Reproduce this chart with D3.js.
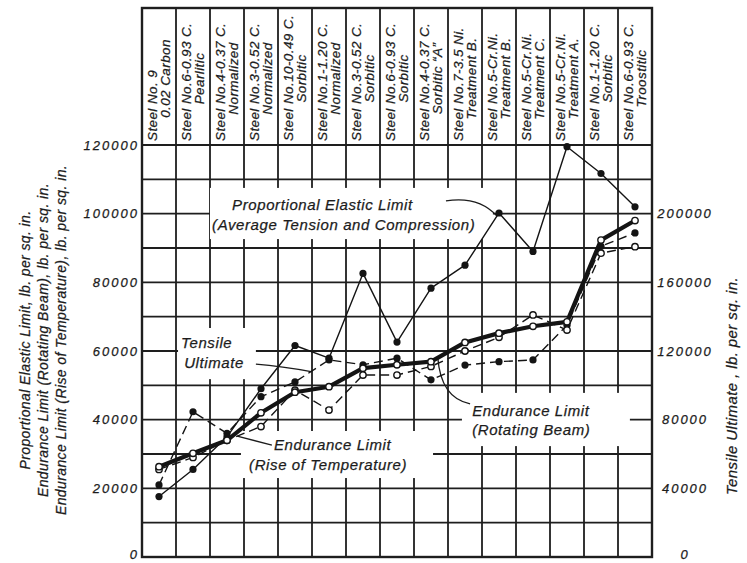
<!DOCTYPE html>
<html>
<head>
<meta charset="utf-8">
<title>Endurance limit compared with other properties of steels</title>
<style>
  body { margin: 0; background: #fff; }
  svg { display: block; background: #fff; }
  text { font-family: "Liberation Sans", Arial, sans-serif; font-style: italic; fill: #1c1c1c; stroke: #1c1c1c; stroke-width: 0.25px; }
</style>
</head>
<body>
<svg width="747" height="563"></svg>

<script src="https://d3js.org/d3.v7.min.js"></script>
<script>

// steels along the bottom (two lines of lettering in each header column)
var steels = ['Steel No. 9', 'Steel No.6-0.93 C.', 'Steel No.4-0.37 C.', 'Steel No.3-0.52 C.',
    'Steel No.10-0.49 C.', 'Steel No.1-1.20 C.', 'Steel No.3-0.52 C.', 'Steel No.6-0.93 C.',
    'Steel No.4-0.37 C.', 'Steel No.7-3.5 Ni.', 'Steel No.5-Cr.Ni.', 'Steel No.5-Cr.Ni.',
    'Steel No.5-Cr.Ni.', 'Steel No.1-1.20 C.', 'Steel No.6-0.93 C.'];
var treatments = ['0.02 Carbon', 'Pearlitic', 'Normalized', 'Normalized', 'Sorbitic', 'Normalized',
    'Sorbitic', 'Sorbitic', 'Sorbitic \u201CA\u201D', 'Treatment B.', 'Treatment B.', 'Treatment C.',
    'Treatment A.', 'Sorbitic', 'Troostitic'];

// lb. per sq. in. (left scale)
var propElastic   = [17600, 25500, 35000, 49000, 61600, 57900, 82600, 62600, 78300, 85000, 100200, 89000, 119500, 111700, 102000];
var enduranceBeam = [26300, 30200, 34000, 42000, 48000, 49600, 55000, 56000, 56900, 62500, 65200, 67200, 68500, 92300, 98000];
var enduranceRise = [25500, 29000, 34000, 38000, 48600, 42800, 53000, 53000, 55500, 60000, 64000, 70500, 66100, 88500, 90400];
// lb. per sq. in. (right scale)
var tensileUltimate = [42000, 84600, 72000, 93400, 102000, 114800, 112000, 115800, 103200, 111800, 113800, 114800, 135000, 181000, 188800];

var leftTicks = [0, 20000, 40000, 60000, 80000, 100000, 120000];
var rightTicks = [0, 40000, 80000, 120000, 160000, 200000];

var svg = d3.select('svg');
var plotLeft = 142, plotRight = 652, plotTop = 145, plotBottom = 557, headTop = 8;

var x = d3.scaleBand().domain(d3.range(steels.length)).range([plotLeft, plotRight]);
var xl = d3.scaleLinear().domain([0, steels.length]).range([plotLeft, plotRight]);
var y = d3.scaleLinear().domain([0, 120000]).range([plotBottom, plotTop]);
var y2 = d3.scaleLinear().domain([0, 240000]).range([plotBottom, plotTop]);
var bw = x.bandwidth();
var cx = i => x(i) + bw / 2;

// ---- grid ----
var grid = svg.append('g').attr('stroke', '#1e1e1e').attr('stroke-width', 1.8);
grid.selectAll('.h')
    .data(d3.range(0, 120001, 10000))
    .enter().append('line')
        .attr('x1', plotLeft).attr('x2', plotRight)
        .attr('y1', d => y(d)).attr('y2', d => y(d));
grid.selectAll('.v')
    .data(d3.range(steels.length + 1))
    .enter().append('line')
        .attr('x1', d => xl(d)).attr('x2', d => xl(d))
        .attr('y1', headTop).attr('y2', plotBottom);
grid.append('line')
    .attr('x1', plotLeft).attr('x2', plotRight)
    .attr('y1', headTop).attr('y2', headTop);
grid.append('rect')
    .attr('x', plotLeft).attr('y', headTop)
    .attr('width', plotRight - plotLeft).attr('height', plotBottom - headTop)
    .attr('fill', 'none').attr('stroke-width', 2.4);

// ---- header lettering ----
var head = svg.append('g').selectAll('g')
    .data(steels)
    .enter().append('g')
        .attr('transform', (d, i) => `translate(${x(i)},0)`);
head.append('text')
    .attr('transform', `translate(14.5,${plotTop - 4}) rotate(-90)`)
    .style('font-size', '13.5px').style('letter-spacing', '0.4px')
    .text(d => d);
head.append('text')
    .attr('transform', `translate(27.5,${(headTop + plotTop) / 2 + 2}) rotate(-90)`)
    .attr('text-anchor', 'middle')
    .style('font-size', '13.5px').style('letter-spacing', '0.4px')
    .text((d, i) => treatments[i]);

// ---- axes ----
var axL = svg.append('g')
    .attr('transform', `translate(${plotLeft},0)`)
    .call(d3.axisLeft(y).tickValues(leftTicks).tickSize(0).tickPadding(3).tickFormat(d3.format('d')));
var axR = svg.append('g')
    .attr('transform', `translate(${plotRight},0)`)
    .call(d3.axisRight(y2).tickValues(rightTicks).tickSize(0).tickFormat(d3.format('d')));
[axL, axR].forEach(a => {
    a.select('.domain').remove();
    a.selectAll('text')
        .attr('fill', '#1c1c1c')
        .style('font-family', '"Liberation Sans", Arial, sans-serif')
        .style('font-style', 'italic')
        .style('font-size', '13px')
        .style('letter-spacing', '2px');
    // keep the zero labels inside the picture
    a.selectAll('.tick').filter(d => d === 0).select('text').attr('dy', '0.1em');
});
axR.selectAll('text').attr('x', 33).attr('text-anchor', 'middle');

// axis titles
var leftTitles = ['Proportional Elastic Limit, lb. per sq. in.',
    'Endurance Limit (Rotating Beam), lb. per sq. in.',
    'Endurance Limit (Rise of Temperature), lb. per sq. in.'];
svg.append('g').selectAll('text')
    .data(leftTitles)
    .enter().append('text')
        .attr('transform', (d, i) => `translate(${30 + i * 18},340) rotate(-90)`)
        .attr('text-anchor', 'middle')
        .style('font-size', '14px').style('letter-spacing', '0.4px')
        .text(d => d);
svg.append('text')
    .attr('transform', 'translate(737,386) rotate(-90)')
    .attr('text-anchor', 'middle')
    .style('font-size', '15px').style('letter-spacing', '0.4px')
    .text('Tensile Ultimate , lb. per sq. in.');

// ---- labels on the chart (white patches hide the grid behind them) ----
var boxes = [
    {c0: 2.0, c1: 10.32, v0: 92600, v1: 107500},
    {c0: 1.06, c1: 3.35, v0: 51800, v1: 66700},
    {c0: 2.91, c1: 8.56, v0: 23000, v1: 36700},
    {c0: 9.41, c1: 14.35, v0: 32300, v1: 47800}
];
svg.append('g').selectAll('rect')
    .data(boxes)
    .enter().append('rect')
        .attr('x', d => xl(d.c0)).attr('width', d => xl(d.c1) - xl(d.c0))
        .attr('y', d => y(d.v1)).attr('height', d => y(d.v0) - y(d.v1))
        .attr('fill', '#fff');

var labels = [
    {t: 'Proportional Elastic Limit', c: 2.65, v: 102500},
    {t: '(Average Tension and Compression)', c: 2.06, v: 96700},
    {t: 'Tensile', c: 1.15, v: 62300},
    {t: 'Ultimate', c: 1.24, v: 56500},
    {t: 'Endurance Limit', c: 3.88, v: 32600},
    {t: '(Rise of Temperature)', c: 3.15, v: 26800},
    {t: 'Endurance Limit', c: 9.71, v: 42500},
    {t: '(Rotating Beam)', c: 9.71, v: 37000}
];
svg.append('g').selectAll('text')
    .data(labels)
    .enter().append('text')
        .attr('x', d => xl(d.c)).attr('y', d => y(d.v))
        .attr('dy', '0.35em')
        .style('font-size', '15px').style('letter-spacing', '0.6px')
        .text(d => d.t);

// leader lines from the labels to their curves
function along(values, scale, at) {
    var i = Math.floor(at), f = at - i;
    return [cx(i) + f * bw, scale(values[i] + (values[i + 1] - values[i]) * f)];
}
var p = (c, v) => [xl(c), y(v)];
var leaders = [
    [p(8.94, 103700), p(9.9, 105200), along(propElastic, y, 9.94)],
    [p(3.35, 56200), p(4.12, 55600), along(tensileUltimate, y2, 4.47)],
    [p(3.82, 32600), p(3.5, 33400), along(enduranceRise, y, 2.3)],
    [p(9.65, 44600), p(8.79, 46300), along(enduranceBeam, y, 8.2)]
];
svg.append('g').selectAll('path')
    .data(leaders)
    .enter().append('path')
        .attr('d', d => `M${d[0]}Q${d[1]} ${d[2]}`)
        .attr('fill', 'none').attr('stroke', '#1c1c1c').attr('stroke-width', 1.3);

// ---- data ----
var series = [
    {values: tensileUltimate, scale: y2, width: 1.4, dash: '9,5', open: false},
    {values: enduranceRise, scale: y, width: 1.4, dash: '9,5', open: true},
    {values: propElastic, scale: y, width: 1.4, dash: null, open: false},
    {values: enduranceBeam, scale: y, width: 4.2, dash: null, open: true}
];
series.forEach(s => {
    var line = d3.line().x((d, i) => cx(i)).y(d => s.scale(d));
    svg.append('path')
        .datum(s.values)
        .attr('d', line)
        .attr('fill', 'none')
        .attr('stroke', '#141414')
        .attr('stroke-width', s.width)
        .attr('stroke-dasharray', s.dash)
        .attr('stroke-linejoin', 'round');
});
series.forEach(s => {
    svg.append('g').selectAll('circle')
        .data(s.values)
        .enter().append('circle')
            .attr('cx', (d, i) => cx(i))
            .attr('cy', d => s.scale(d))
            .attr('r', s.open ? 3.2 : 3.6)
            .attr('fill', s.open ? '#fff' : '#141414')
            .attr('stroke', '#141414')
            .attr('stroke-width', s.open ? 1.4 : 0);
});
</script>

</body>
</html>
